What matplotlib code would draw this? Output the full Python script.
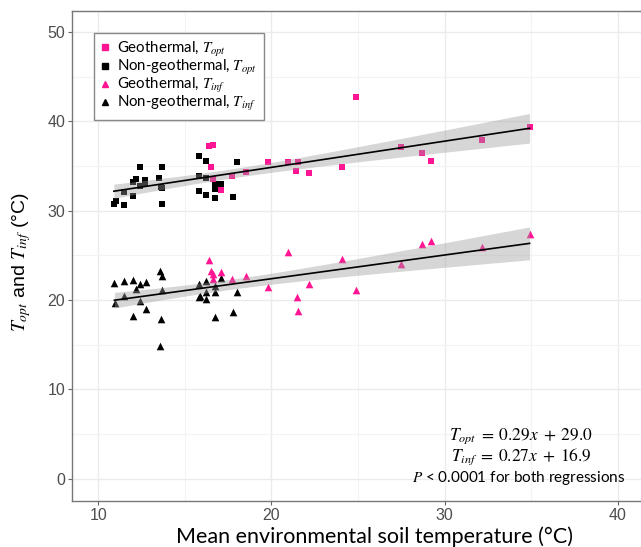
import numpy as np
import matplotlib
matplotlib.use("Agg")
import matplotlib.pyplot as plt
from matplotlib.lines import Line2D

plt.rcParams['mathtext.fontset'] = 'stix'

# ---- data ----
# geothermal sites (pink)
geo_x = [16.4, 16.6, 16.5, 16.6, 17.1, 17.7, 18.55, 19.8, 20.95, 21.55,
         21.4, 22.15, 24.05, 24.9, 27.5, 28.7, 29.2, 32.15, 34.9]
geo_topt = [37.2, 37.4, 34.9, 33.6, 32.3, 33.9, 34.3, 35.5, 35.4, 35.5,
            34.5, 34.2, 34.9, 42.7, 37.1, 36.5, 35.6, 37.9, 39.4]
geo_tinf_x = [16.4, 16.5, 16.6, 16.6, 17.1, 17.7, 18.55, 19.8, 20.95, 21.45,
              21.55, 22.15, 24.05, 24.9, 27.5, 28.7, 29.2, 32.15, 34.9]
geo_tinf = [24.5, 23.2, 22.9, 22.3, 23.1, 22.4, 22.7, 21.5, 25.4, 20.3,
            18.8, 21.8, 24.6, 21.1, 24.0, 26.25, 26.65, 25.9, 27.4]

# non-geothermal sites (black)
ng_topt_x = [10.9, 11.0, 11.5, 11.5, 12.0, 12.0, 12.2, 12.4, 12.4, 12.7,
             12.7, 13.5, 13.7, 13.7, 13.6, 13.7, 15.8, 15.8, 15.8, 16.2,
             16.2, 16.2, 16.75, 17.1, 16.75, 16.75, 17.8, 18.0]
ng_topt = [30.8, 31.1, 30.6, 32.1, 31.6, 33.2, 33.5, 34.9, 32.8, 33.4,
           33.1, 33.7, 34.9, 30.7, 32.7, 32.5, 36.1, 33.9, 32.2, 35.6,
           33.7, 31.8, 33.0, 33.0, 32.4, 31.4, 31.5, 35.5]
ng_tinf_x = [10.97, 10.93, 11.5, 11.5, 12.0, 12.0, 12.2, 12.4, 12.4, 12.75,
             12.75, 13.55, 13.7, 13.7, 13.65, 13.55, 15.8, 16.2, 15.8, 15.85,
             16.2, 16.2, 16.75, 16.75, 16.75, 17.1, 17.8, 18.0]
ng_tinf = [19.7, 21.9, 20.5, 22.1, 22.2, 18.2, 21.2, 19.9, 21.8, 22.0,
           19.0, 23.3, 22.7, 21.1, 17.9, 14.9, 21.8, 22.1, 20.3, 20.4,
           20.1, 20.9, 20.95, 21.6, 18.1, 22.5, 18.7, 20.9]

PINK = '#FF1493'
W, H = 641, 547

fig = plt.figure(figsize=(W / 100, H / 100), dpi=100)
ax = fig.add_axes([72.3 / W, 1 - 500.7 / H, (W - 72.3 + 2) / W, (500.7 - 10.7) / H])

ax.set_xlim(8.5, 41.45)
ax.set_ylim(-2.48, 52.4)

# grid like ggplot theme_bw
ax.set_xticks([10, 20, 30, 40])
ax.set_yticks([0, 10, 20, 30, 40, 50])
ax.set_xticks([15, 25, 35], minor=True)
ax.set_yticks([5, 15, 25, 35, 45], minor=True)
ax.grid(which='major', color='#ebebeb', lw=1.0)
ax.grid(which='minor', color='#f3f3f3', lw=0.8)
ax.set_axisbelow(True)
ax.tick_params(which='minor', length=0)
ax.tick_params(which='major', length=3, color='#666666', width=0.8,
               labelsize=11.5, labelcolor='#4d4d4d', pad=2)
for lab in ax.get_xticklabels() + ax.get_yticklabels():
    lab.set_family('Liberation Sans')
for s in ['left', 'bottom', 'top']:
    ax.spines[s].set_color('#777777')
    ax.spines[s].set_linewidth(1.0)
ax.spines['right'].set_visible(False)

# points
ax.scatter(ng_topt_x, ng_topt, marker='s', s=20, c='black', lw=0, zorder=3)
ax.scatter(geo_x, geo_topt, marker='s', s=20, c=PINK, lw=0, zorder=3)
ax.scatter(ng_tinf_x, ng_tinf, marker='^', s=30, c='black', lw=0, zorder=3)
ax.scatter(geo_tinf_x, geo_tinf, marker='^', s=30, c=PINK, lw=0, zorder=3)


def fit_band(xs, ys):
    xs = np.asarray(xs, float)
    ys = np.asarray(ys, float)
    n = len(xs)
    b, a = np.polyfit(xs, ys, 1)
    resid = ys - (a + b * xs)
    s = np.sqrt(np.sum(resid ** 2) / (n - 2))
    xm = xs.mean()
    sxx = np.sum((xs - xm) ** 2)
    gx = np.linspace(xs.min(), xs.max(), 100)
    gy = a + b * gx
    se = s * np.sqrt(1 / n + (gx - xm) ** 2 / sxx)
    t = 2.01  # ~t(0.975, n-2)
    return gx, gy, gy - t * se, gy + t * se


for xs, ys in [(ng_topt_x + geo_x, ng_topt + geo_topt),
               (ng_tinf_x + geo_tinf_x, ng_tinf + geo_tinf)]:
    gx, gy, lo, hi = fit_band(xs, ys)
    ax.fill_between(gx, lo, hi, color='#999999', alpha=0.4, lw=0, zorder=4)
    ax.plot(gx, gy, color='black', lw=1.2, zorder=5)

# axis labels
fig.text(375 / W, 1 - 537 / H, 'Mean environmental soil temperature (°C)',
         ha='center', va='center', fontsize=15.5, family='Lato')
fig.text(22 / W, 1 - 262 / H, r'$T_{opt}$ and $T_{inf}$ (°C)',
         ha='center', va='center', rotation=90, fontsize=14,
         family='Liberation Sans')

# legend
handles = [
    Line2D([], [], ls='none', marker='s', ms=4.5, color=PINK),
    Line2D([], [], ls='none', marker='s', ms=4.5, color='black'),
    Line2D([], [], ls='none', marker='^', ms=5, color=PINK),
    Line2D([], [], ls='none', marker='^', ms=5, color='black'),
]
labels = [r'Geothermal, $T_{opt}$', r'Non-geothermal, $T_{opt}$',
          r'Geothermal, $T_{inf}$', r'Non-geothermal, $T_{inf}$']
leg = fig.legend(handles, labels, loc='upper left',
                 bbox_to_anchor=(94 / W, 1 - 33 / H), frameon=True,
                 fancybox=False, edgecolor='#888888', framealpha=1,
                 prop={'family': 'Lato', 'size': 10.8},
                 handlelength=0.6, handletextpad=0.5, labelspacing=-0.05,
                 borderpad=0.45, borderaxespad=0)
leg.get_frame().set_linewidth(1.0)

# equations
fig.text(521 / W, 1 - 436 / H, r'$T_{opt}\;=\;0.29x\;+\;29.0$', ha='center',
         va='center', fontsize=12.5)
fig.text(521 / W, 1 - 457 / H, r'$T_{inf}\;=\;0.27x\;+\;16.9$', ha='center',
         va='center', fontsize=12.5)
fig.text(519 / W, 1 - 478 / H, r'$P$ < 0.0001 for both regressions',
         ha='center', va='center', fontsize=11, family='Lato')

fig.savefig('out.png', dpi=100)
